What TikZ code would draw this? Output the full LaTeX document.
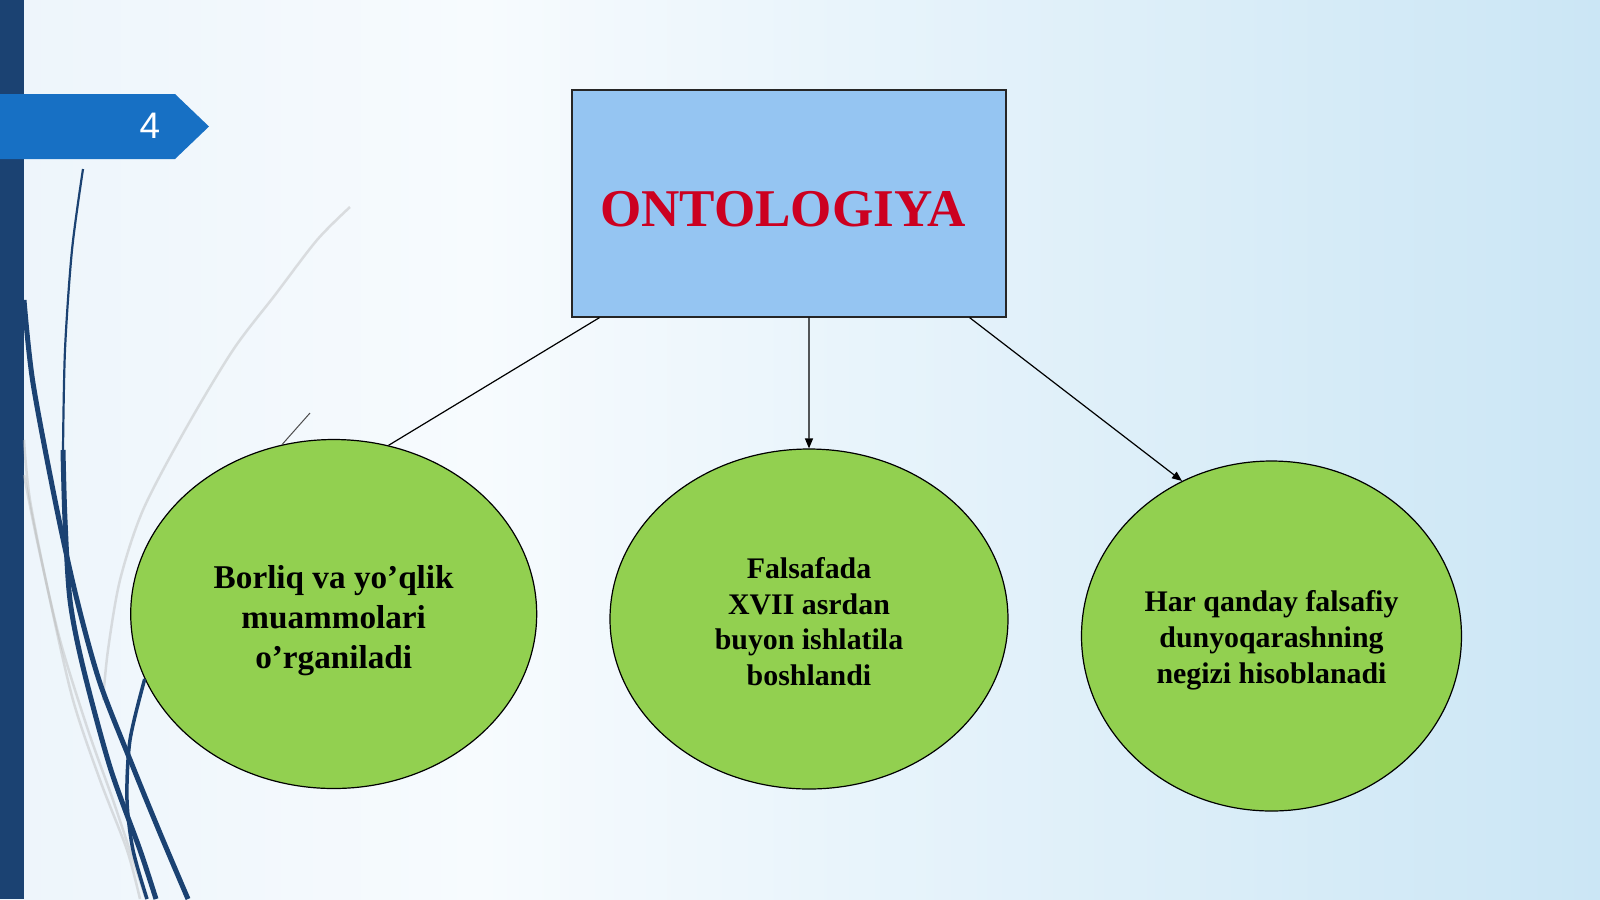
\documentclass[tikz,border=0pt]{standalone}
\usepackage{fontspec}
\setmainfont{Liberation Serif}
\newfontfamily\slidesans{Liberation Sans}
\usepackage{tikz}
\usetikzlibrary{shapes.geometric,calc,arrows.meta}
\definecolor{barblue}{HTML}{1B4272}
\definecolor{tabblue}{HTML}{1770C4}
\definecolor{boxblue}{HTML}{95C5F2}
\definecolor{leafgreen}{HTML}{92D050}
\definecolor{titlered}{HTML}{CC0020}
\definecolor{bgleft}{HTML}{EDF5FB}
\definecolor{bgmid}{HTML}{F7FBFE}
\definecolor{bgright}{HTML}{CBE6F5}
\tikzset{
   title node/.style={rectangle,draw=black!85,fill=boxblue,line width=0.12mm,
                      minimum width=43.4mm,minimum height=22.7mm,inner sep=0pt,
                      text height=4.5mm,text depth=0pt,
                      font=\fontsize{15.1}{17}\selectfont\bfseries,text=titlered},
   topic node/.style={ellipse,draw=black,fill=leafgreen,line width=0.12mm,
                      inner sep=0pt,align=center,text=black},
   big topic/.style={topic node,font=\fontsize{9.45}{11.4}\selectfont\bfseries},
   small topic/.style={topic node,font=\fontsize{8.5}{10.2}\selectfont\bfseries},
   swoosh/.style={draw=barblue,line width=0.5mm},
   thin swoosh/.style={draw=barblue,line width=0.22mm},
   grey swoosh/.style={draw=black!30,line width=0.25mm,opacity=0.4}
}

\begin{document}
\begin{tikzpicture}[x=0.1mm,y=-0.1mm,
                    connector/.style={draw=black,line width=0.12mm},
                    >={Triangle[length=1mm,width=0.8mm]}]
\useasboundingbox (0,0) rectangle (1600,899);
% slide background
\shade[left color=bgleft,right color=bgmid] (0,0) rectangle (480,899);
\shade[left color=bgmid,right color=bgright] (480,0) rectangle (1600,899);
\fill[barblue] (0,0) rectangle (24,899);
%
\fill[tabblue] (0,94) -- (175,94) -- (209,126.5) -- (175,159) -- (0,159) -- cycle;
\node[text=white,font=\fontsize{10.5}{12}\selectfont\slidesans] (pagenum) at (150,126) {4};
%
% swooshes on the left
\draw[grey swoosh] plot[smooth] coordinates {(350,207) (317,240) (275,295) (233,350) (185,430) (143,510) (120,580) (108,650) (103,700)};
\draw[grey swoosh] plot[smooth] coordinates {(24,440) (30,500) (50,600) (73,700) (100,780) (127,850) (140,899)};
\draw[grey swoosh] plot[smooth] coordinates {(24,475) (38,545) (60,640) (88,730) (113,800) (133,860) (146,899)};
\draw[thin swoosh] plot[smooth] coordinates {(83,169) (72,250) (65,350) (63,450)};
\draw[swoosh] plot[smooth] coordinates {(63,450) (65,520) (70,600) (83,667) (110,767) (140,850) (156,899)};
\draw[swoosh] plot[smooth] coordinates {(24,300) (33,383) (57,510) (77,600) (100,683) (133,767) (160,833) (188,899)};
%
\node[title node] (onto) at (789,203.5) {\hspace*{-1.2mm}ONTOLOGIYA};
\node[big topic,minimum width=40.6mm,minimum height=34.9mm] (borliq) at (333.7,614)
     {\rule{0pt}{10.5pt}Borliq va yo’qlik\\muammolari\\o’rganiladi};
\node[small topic,minimum width=39.8mm,minimum height=34mm] (falsafa) at (809,619)
     {\rule{0pt}{7.5pt}Falsafada\\XVII asrdan\\buyon ishlatila\\boshlandi};
\node[small topic,minimum width=38mm,minimum height=35mm] (negiz) at (1271.5,636)
     {\rule{0pt}{8.6pt}Har qanday falsafiy\\dunyoqarashning\\negizi hisoblanadi};
%
\draw[swoosh,line width=0.35mm] plot[smooth] coordinates {(borliq.199) (130,740) (127,800) (133,850) (147,899)};
%
\coordinate (onto l) at ($(onto.south west)!0.0645!(onto.south east)$);
\coordinate (onto m) at ($(onto.south west)!0.546!(onto.south east)$);
\coordinate (onto r) at ($(onto.south west)!0.915!(onto.south east)$);
\coordinate (stub) at (310,413);
\path[connector]
  (onto l) edge (borliq.72.5)
  (onto m) edge[->] (falsafa.north)
  (onto r) edge[->] (negiz.120.2)
  ;
\draw[draw=black!70,line width=0.1mm] (stub) -- (borliq.107.7);
\end{tikzpicture}
\end{document}
